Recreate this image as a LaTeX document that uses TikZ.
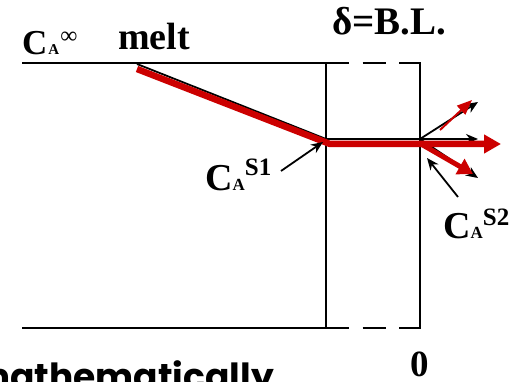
\documentclass[tikz,border=0pt]{standalone}
\usepackage{fontspec}
\setmainfont{Liberation Serif}
\newfontfamily\comicfont{Poppins}
\usetikzlibrary{arrows.meta}
\definecolor{myred}{RGB}{204,0,0}
\begin{document}
\begin{tikzpicture}[x=1pt,y=-1pt,
  blk/.style={line width=1.8pt, black},
  blkarrow/.style={line width=1.8pt, black, -{Stealth[length=12pt,width=10pt]}},
  redarrow/.style={myred, line join=round},
  lbl/.style={inner sep=0pt, anchor=base west, font=\bfseries},
  dashln/.style={line width=1.8pt, dash pattern=on 23pt off 13.5pt}]
\useasboundingbox (0,0) rectangle (513,382);

% coordinates
\coordinate (TL) at (22,63);
\coordinate (TM) at (326,63);
\coordinate (TR) at (420,63);
\coordinate (BL) at (22,328);
\coordinate (BM) at (326,328);
\coordinate (BR) at (420,328);

% frame
\draw[blk] (TL) -- (TM);
\draw[blk] (BL) -- (BM);
\draw[dashln] (TM) -- (TR);
\draw[dashln] (BM) -- (BR);
\draw[blk] (TM) -- (BM);
\draw[blk, line cap=rect] (TR) -- (BR);

% black profile and arrows
\coordinate (bs) at (137,64);
\coordinate (bc) at (326,139);
\coordinate (be) at (478,139);
\coordinate (wall) at (420,139);
\coordinate (bup) at (478,102);
\coordinate (bdn) at (478,178);
\draw[blkarrow, line join=round] (bs) -- (bc) -- (be);
\draw[blkarrow] (wall) -- (bup);
\draw[blkarrow] (wall) -- (bdn);

% red profile and arrows
\coordinate (rs) at (137,69);
\coordinate (rc) at (330,144);
\coordinate (re) at (501,144);
\coordinate (rw) at (421,144);
\coordinate (rups) at (440,130);
\coordinate (rup) at (472,100);
\coordinate (rdn) at (473,174);
\draw[redarrow, line width=6.5pt, -{Triangle[length=17pt,width=18pt]}] (rs) -- (rc) -- (re);
\draw[redarrow, line width=2pt, -{Triangle[length=15pt,width=12pt]}] (rups) -- (rup);
\draw[redarrow, line width=5pt, -{Triangle[length=15pt,width=17pt]}] (rw) -- (rdn);

% labels
\node[lbl] (cinf) at (22,55) {\fontsize{35}{35}\selectfont C\hspace{1pt}\fontsize{15}{15}\selectfont A\hspace{1pt}\raisebox{11pt}{\mdseries\fontsize{24}{24}\selectfont ∞}};
\node[lbl] (melt) at (118,50) {\fontsize{38}{38}\selectfont melt};
\node[lbl] (bl) at (332,35) {\fontsize{39}{39}\selectfont δ=B.L.};
\node[lbl] (cas1) at (205,190) {\fontsize{38}{38}\selectfont C\fontsize{17}{17}\selectfont A\raisebox{15pt}{\fontsize{25}{25}\selectfont S1}};
\node[lbl] (cas2) at (443,238) {\fontsize{38}{38}\selectfont C\fontsize{17}{17}\selectfont A\raisebox{13pt}{\fontsize{25}{25}\selectfont S2}};
\node[lbl] (zero) at (410,376) {\fontsize{37}{37}\selectfont 0};
\node[inner sep=0pt, anchor=base east, font=\comicfont\bfseries] (math) at (274,389) {\fontsize{36}{36}\selectfont mathematically};

% pointers
\coordinate (p1s) at (281,171);
\coordinate (p1e) at (323,142);
\coordinate (p2s) at (458,197);
\coordinate (p2e) at (427,158);
\draw[blkarrow] (p1s) -- (p1e);
\draw[blkarrow] (p2s) -- (p2e);
\end{tikzpicture}
\end{document}
